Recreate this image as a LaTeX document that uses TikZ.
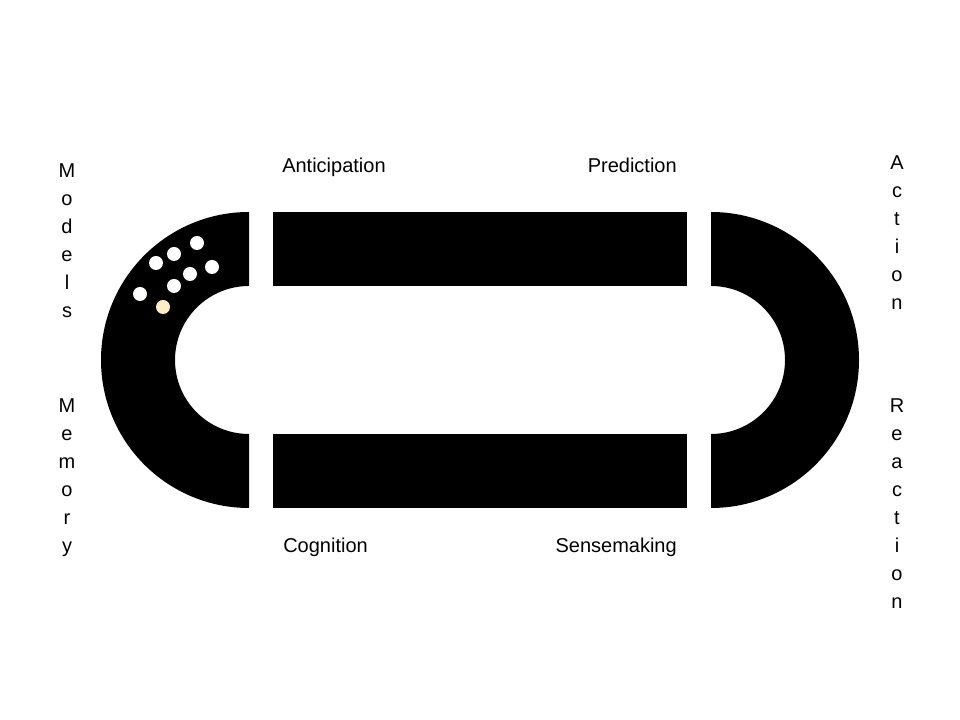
\documentclass[tikz,border=0pt]{standalone}
\usepackage{fontspec}
\setmainfont{Liberation Sans}
\definecolor{cream}{RGB}{252,236,200}
\tikzset{
  word/.style={inner sep=0pt, font=\fontsize{15}{21}\selectfont},
  column/.style={word, align=center, anchor=north},
  dot/.style={fill=white, draw=none},
}
\begin{document}
\begin{tikzpicture}[x=0.75pt,y=0.75pt]
    \useasboundingbox (0,0) rectangle (960,720);

    % Left half ring
    \fill (249,508) arc[start angle=90, end angle=270, radius=148] -- (249,286)
        arc[start angle=270, end angle=90, radius=74] -- cycle;

    % Right half ring
    \fill (711,508) arc[start angle=90, end angle=-90, radius=148] -- (711,286)
        arc[start angle=-90, end angle=90, radius=74] -- cycle;

    % Bars
    \fill (273,434) rectangle (687,508);
    \fill (273,212) rectangle (687,286);

    % Dots
    \foreach \x/\y in {197/477, 174/466, 156/457, 212/453, 190/446, 174/434, 140/426}
        \fill[dot] (\x,\y) circle (7);
    \fill[dot, fill=cream] (163,413) circle (7);

    % Labels
    \node[word, anchor=base west] (anticipation) at (282,547) {Anticipation};
    \node[word, anchor=base east] (prediction) at (677,547) {Prediction};
    \node[word, anchor=base west] (cognition) at (283,167) {Cognition};
    \node[word, anchor=base east] (sensemaking) at (677,167) {Sensemaking};

    % Vertical labels
    \node[column] (models) at (67,557) {M\\o\\d\\e\\l\\s};
    \node[column] (memory) at (67,322) {M\\e\\m\\o\\r\\y};
    \node[column] (action) at (897,565) {A\\c\\t\\i\\o\\n};
    \node[column] (reaction) at (897,322) {R\\e\\a\\c\\t\\i\\o\\n};
\end{tikzpicture}
\end{document}
